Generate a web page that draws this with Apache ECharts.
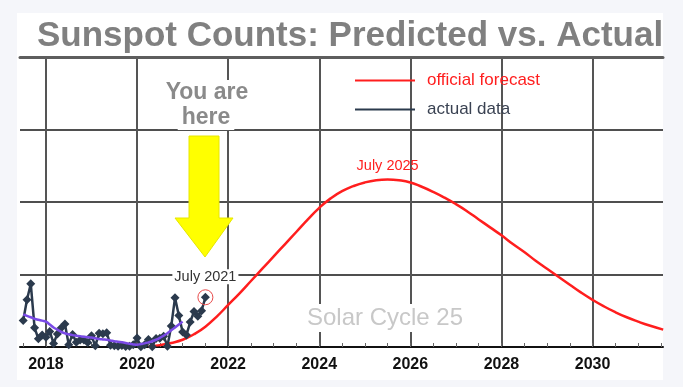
<!DOCTYPE html>
<html><head><meta charset="utf-8">
<script src="https://cdn.jsdelivr.net/npm/echarts@6/dist/echarts.min.js"></script>
<style>html,body{margin:0;padding:0;background:#f5f6fa;}#c{width:683px;height:387px;}</style>
</head><body><div id="c"></div>
<script>
// ---- data ----
const xMin = 2017.43, xMax = 2031.546;
const tickYears = [2018, 2020, 2022, 2024, 2026, 2028, 2030];
const minorTickYears = [2017.5, 2018, 2018.5, 2019, 2019.5, 2020, 2020.5, 2021, 2021.5, 2022, 2022.5, 2023, 2023.5,
  2024, 2024.5, 2025, 2025.5, 2026, 2026.5, 2027, 2027.5, 2028, 2028.5, 2029, 2029.5, 2030, 2030.5, 2031, 2031.5];

// monthly sunspot number, Jul 2017 .. Jul 2021
const actualStartYear = 2017, actualStartMonth = 7;
const actualValues = [
  18.3, 32.6, 43.6, 13.2, 5.7, 8.2,
  6.8, 10.7, 2.5, 8.9, 13.1, 15.9, 1.6, 8.7, 3.3, 4.9, 4.9, 3.1,
  7.7, 0.8, 9.4, 9.1, 9.9, 1.2, 0.9, 0.5, 1.1, 0.4, 0.5, 1.5,
  6.2, 0.2, 1.5, 5.2, 0.2, 5.8, 6.1, 7.5, 0.6, 14.4, 34.0, 21.8,
  10.4, 8.2, 17.2, 24.5, 21.2, 25.0, 34.3
];
// 13-month smoothed, Jul 2017 .. Jan 2021
const smoothedValues = [
  22.5, 21.5, 20.5, 19.5, 18.8, 18.2,
  17.5, 15.5, 13.5, 12.0, 10.5, 9.5, 8.8, 8.2, 7.8, 7.5, 7.0, 6.8,
  6.5, 6.0, 5.5, 5.2, 5.0, 4.5, 4.0, 3.6, 3.2, 2.8, 2.2, 1.8,
  1.6, 2.0, 2.5, 3.2, 4.0, 5.0, 6.3, 7.8, 9.5, 11.5, 13.5, 15.5,
  17.5
];
// official forecast (quarterly)
const forecastYears = [2020.25, 2020.5, 2020.75, 2021.0, 2021.25, 2021.5, 2021.75,
  2022.0, 2022.25, 2022.5, 2022.75, 2023.0, 2023.25, 2023.5, 2023.75,
  2024.0, 2024.25, 2024.5, 2024.75, 2025.0, 2025.25, 2025.5, 2025.75,
  2026.0, 2026.25, 2026.5, 2026.75, 2027.0, 2027.25, 2027.5, 2027.75,
  2028.0, 2028.25, 2028.5, 2028.75, 2029.0, 2029.25, 2029.5, 2029.75,
  2030.0, 2030.25, 2030.5, 2030.75, 2031.0, 2031.25, 2031.55];
const forecastValues = [0.3, 1.3, 2.8, 5.0, 8.8, 14.0, 21.0,
  29.0, 37.0, 45.5, 54.0, 62.5, 71.0, 79.5, 88.0,
  96.0, 102.5, 107.5, 111.0, 113.5, 115.0, 115.5, 115.0,
  113.5, 110.5, 107.0, 103.0, 98.5, 93.5, 88.0, 82.5,
  77.0, 71.0, 65.5, 59.5, 54.0, 48.5, 43.0, 37.5,
  32.5, 28.0, 24.0, 20.5, 17.5, 14.8, 12.0];
const peakLabel = 'July 2025', peakPoint = [2025.5, 115.5];
const nowLabel = 'July 2021';

// ---- build ----
const monthYear = i => actualStartYear + (actualStartMonth - 1 + i) / 12;
const actualData = actualValues.map((v, i) => [monthYear(i), v]);
const smoothedData = smoothedValues.map((v, i) => [monthYear(i), v]);
const forecastData = forecastYears.map((y, i) => [y, forecastValues[i]]);
const last = actualData[actualData.length - 1];

const FONT = 'Liberation Sans, Arial, sans-serif';
const RED = '#ff1e1e', DARK = '#2b3a4d', PURPLE = '#7a4ae6';

const chart = echarts.init(document.getElementById('c'));
chart.setOption({
  backgroundColor: '#f5f6fa',
  animation: false,
  title: {
    text: 'Sunspot Counts: Predicted vs. Actual',
    left: 32, top: 14,
    textStyle: { fontFamily: FONT, fontSize: 35, fontWeight: 'bold', color: '#808080' }
  },
  legend: {
    orient: 'vertical', left: 350, top: 67, icon: 'rect', itemWidth: 60, itemHeight: 2, itemGap: 12,
    textStyle: { fontFamily: FONT, fontSize: 17, padding: [0, 0, 0, 7] },
    data: [
      { name: 'official forecast', textStyle: { color: RED } },
      { name: 'actual data', textStyle: { color: '#3a4252' } }
    ]
  },
  grid: { left: 20, right: 20, top: 57, bottom: 40 },
  xAxis: [{
    type: 'value', min: xMin, max: xMax, position: 'bottom',
    axisLine: { show: true, lineStyle: { color: '#111', width: 2 } },
    axisTick: { show: true, customValues: minorTickYears, inside: true, length: 4, lineStyle: { color: '#666', width: 1 } },
    axisLabel: { customValues: tickYears, formatter: v => String(v), fontFamily: FONT, fontSize: 16, fontWeight: 'bold', color: '#111', margin: 10 },
    splitLine: { show: false }
  }, {
    type: 'value', min: xMin, max: xMax, position: 'top',
    axisLine: { show: true, lineStyle: { color: '#5e5e5e', width: 3 } },
    axisTick: { show: false, customValues: tickYears },
    axisLabel: { show: false, customValues: tickYears },
    splitLine: { show: true, lineStyle: { color: '#555', width: 2 } }
  }],
  yAxis: {
    type: 'value', min: 0, max: 200, interval: 50,
    axisLine: { show: false }, axisTick: { show: false }, axisLabel: { show: false },
    splitLine: { show: true, lineStyle: { color: '#151515', width: 1.5 } }
  },
  graphic: [
    { type: 'rect', z: -100, shape: { x: 17, y: 13, width: 646, height: 367 }, style: { fill: '#ffffff' } },
    { type: 'polygon', z: 100, shape: { points: [[189, 136], [219, 136], [219, 218], [233, 218], [205, 257], [175, 218], [189, 218]] },
      style: { fill: '#ffff00', stroke: '#e6e600', lineWidth: 1 } },
    { type: 'text', z: 100, x: 207, y: 80, style: { text: 'You are', font: 'bold 23px ' + FONT, fill: '#8a8a8a',
      align: 'center', lineHeight: 25, backgroundColor: '#fff', padding: [0, 2] } },
    { type: 'text', z: 100, x: 206, y: 105, style: { text: 'here', font: 'bold 23px ' + FONT, fill: '#8a8a8a',
      align: 'center', lineHeight: 25, backgroundColor: '#fff', padding: [0, 4] } },
    { type: 'text', z: 100, x: 385, y: 318, style: { text: 'Solar Cycle 25', font: '24px ' + FONT, fill: '#c8c8c8',
      align: 'center', verticalAlign: 'middle', backgroundColor: '#fff', padding: [2, 4] } }
  ],
  series: [{
    name: 'official forecast', type: 'line', data: forecastData, smooth: 0.5, symbol: 'none',
    itemStyle: { color: RED }, lineStyle: { color: RED, width: 2.5 }, z: 3,
    markPoint: {
      symbol: 'circle', symbolSize: 2, itemStyle: { color: 'rgba(0,0,0,0)' },
      label: { show: true, position: 'top', distance: 5, formatter: peakLabel, color: RED, fontFamily: FONT, fontSize: 14.5 },
      data: [{ coord: peakPoint }]
    }
  }, {
    name: 'actual data', type: 'line', data: actualData, symbol: 'diamond', symbolSize: 9,
    itemStyle: { color: DARK }, lineStyle: { color: DARK, width: 2.5 }, z: 4,
    markPoint: {
      symbol: 'circle', symbolSize: 15, itemStyle: { color: 'rgba(0,0,0,0)', borderColor: '#e84a4a', borderWidth: 1 },
      label: { show: true, position: 'top', distance: 5, formatter: nowLabel, color: '#333', fontFamily: FONT, fontSize: 14.5,
        backgroundColor: '#fff', padding: [0, 2] },
      data: [{ coord: last }]
    }
  }, {
    name: 'smoothed', type: 'line', data: smoothedData, smooth: 0.5, symbol: 'none',
    itemStyle: { color: PURPLE }, lineStyle: { color: PURPLE, width: 2.5 }, z: 5
  }]
});
</script>
</body></html>
